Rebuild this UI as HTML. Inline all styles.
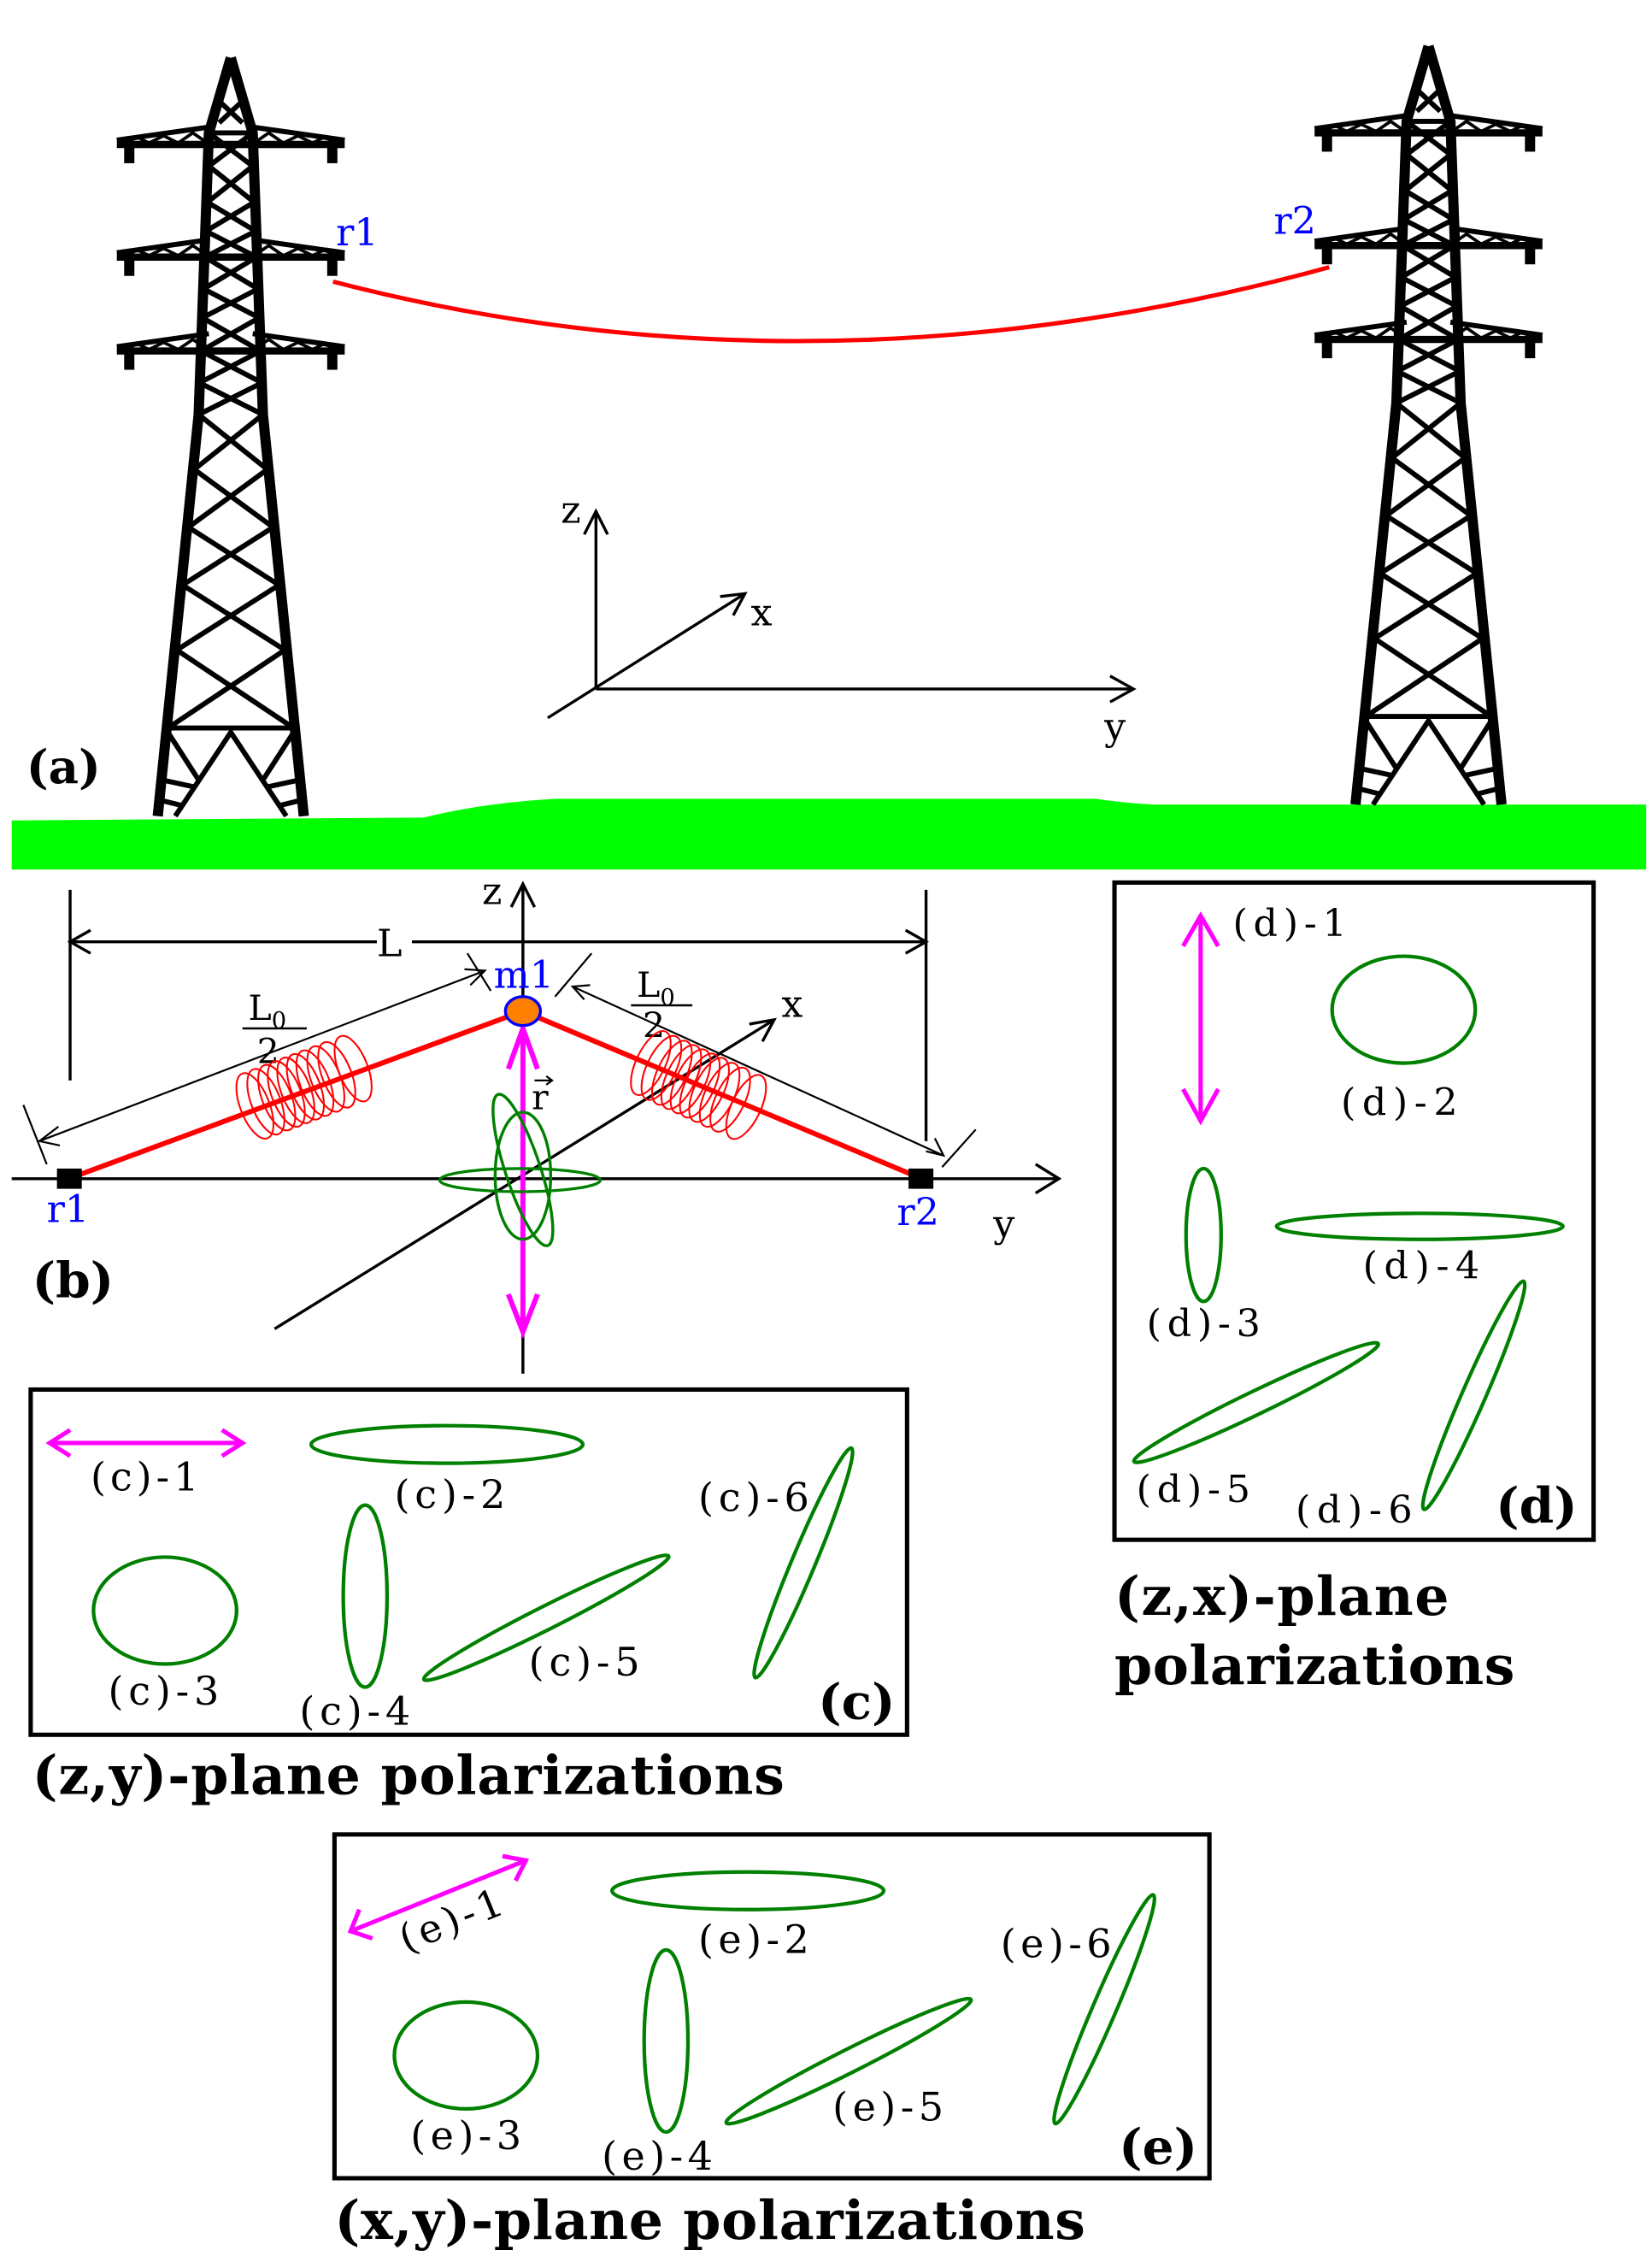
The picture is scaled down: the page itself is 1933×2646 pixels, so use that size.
<!DOCTYPE html>
<html><head><meta charset="utf-8"><style>
html,body{margin:0;padding:0;background:#fff}
svg{display:block}
text{font-family:"DejaVu Serif","Liberation Serif",serif}
</style></head><body>
<svg width="1933" height="2646" viewBox="0 0 1131 1566" preserveAspectRatio="none" xmlns="http://www.w3.org/2000/svg">
<defs>
<g id="tower" stroke="#000" fill="none" stroke-linejoin="round">
  <path d="M0,0 L-15,52 L-22,247 L-50,525 M0,0 L15,52 L22,247 L50,525" stroke-width="7"/>
  <path d="M-8,30 L8,45 M8,30 L-8,45 M-15,52 L15,52" stroke-width="3.5"/>
  <polyline points="-15,52 15,75 -16,100 17,120 -17.7,138 18.6,160 -19.4,180 20.4,203 -21.4,225 22,247 -25,285 29,325 -33,365 37,410 -43,464" stroke-width="3.5"/>
  <polyline points="15,52 -15,75 16,100 -17,120 17.7,138 -18.6,160 19.4,180 -20.4,203 21.4,225 -22,247 25,285 -29,325 33,365 -37,410 43,464" stroke-width="3.5"/>
  <path d="M-43,464 L43,464 M-38,525 L0,467 L38,525 M-43,467 L-22,500 M43,467 L22,500 M-47,500 L-24,505 M47,500 L24,505 M-48,514 L-32,518 M48,514 L32,518" stroke-width="3.5"/>
  <g id="arm">
    <path d="M-15,48 L-78,57 M15,48 L78,57" stroke-width="3.5"/>
    <path d="M-78,60 L78,60" stroke-width="5"/>
    <polyline points="-72,59 -64,55 -56,59 -46,54 -36,59 -26,52 -16,59" stroke-width="2.2"/>
    <polyline points="72,59 64,55 56,59 46,54 36,59 26,52 16,59" stroke-width="2.2"/>
    <rect x="-73" y="61" width="7" height="12" fill="#000" stroke="none"/>
    <rect x="66" y="61" width="7" height="12" fill="#000" stroke="none"/>
  </g>
  <use href="#arm" y="78"/>
  <use href="#arm" y="143"/>
</g>
</defs>

<path d="M8,568 L290,566 Q330,556 380,553 L750,553 Q770,556 790,557 L1127,557 L1127,602 L8,602 Z" fill="#00ff00"/>

<use href="#tower" x="158" y="40"/>
<use href="#tower" x="978" y="32"/>

<path d="M228,195 Q560,282 910,185" stroke="#ff0000" stroke-width="3" fill="none"/>
<text x="230" y="170" font-size="26" fill="#0000ff">r1</text>
<text x="872" y="162" font-size="26" fill="#0000ff">r2</text>
<text x="18" y="542" font-size="32" font-weight="bold">(a)</text>

<g stroke="#000" stroke-width="2" fill="none">
  <path d="M408,477 L408,354 M400,370 L408,354 L416,370"/>
  <path d="M408,477 L776,477 M760,468 L776,477 L760,486"/>
  <path d="M375,497 L510,411 M493,413 L510,411 L502,426"/>
</g>
<text x="384" y="362" font-size="26">z</text>
<text x="514" y="433" font-size="26">x</text>
<text x="756" y="512" font-size="26">y</text>

<g stroke="#000" stroke-width="2" fill="none">
  <path d="M8,816 L725,816 M709,806 L725,816 L709,826"/>
  <path d="M358,951 L358,612 M350,628 L358,612 L366,628"/>
  <path d="M48,616 L48,748 M634,616 L634,790"/>
  <path d="M48,652 L258,652 M282,652 L634,652 M62,644 L48,652 L62,660 M620,644 L634,652 L620,660"/>
  <path d="M188,920 L530,706 M513,709 L530,706 L522,721"/>
</g>
<g stroke="#000" stroke-width="1.3" fill="none">
  <path d="M27,790 L332,672 M40,780 L27,790 L41,793 M318,671 L332,672 L322,682"/>
  <path d="M16,765 L32,806 M320,660 L336,686"/>
  <path d="M392,683 L646,800 M404,682 L392,683 L400,692 M634,797 L646,800 L640,788"/>
  <path d="M380,690 L405,660 M645,808 L668,782"/>
</g>
<text x="258" y="662" font-size="26">L</text>
<text x="170" y="706" font-size="24">L<tspan font-size="16" dy="6">0</tspan></text>
<path d="M166,712 L210,712" stroke="#000" stroke-width="1.5"/>
<text x="176" y="736" font-size="24">2</text>
<text x="436" y="690" font-size="24">L<tspan font-size="16" dy="6">0</tspan></text>
<path d="M432,696 L474,696" stroke="#000" stroke-width="1.5"/>
<text x="440" y="718" font-size="24">2</text>

<path d="M47,816 L358,700 L631,816" stroke="#ff0000" stroke-width="3.5" fill="none"/>
<g stroke="#ff0000" stroke-width="1.2" fill="none">
  <g transform="rotate(-21 210 752)">
    <ellipse cx="172" cy="752" rx="10" ry="24"/><ellipse cx="180" cy="752" rx="10" ry="24"/><ellipse cx="188" cy="752" rx="10" ry="24"/><ellipse cx="195" cy="752" rx="10" ry="24"/><ellipse cx="202" cy="752" rx="10" ry="24"/><ellipse cx="209" cy="752" rx="10" ry="24"/><ellipse cx="216" cy="752" rx="10" ry="24"/><ellipse cx="224" cy="752" rx="10" ry="24"/><ellipse cx="232" cy="752" rx="10" ry="24"/><ellipse cx="244" cy="752" rx="10" ry="24"/>
  </g>
  <g transform="rotate(25 480 752)">
    <ellipse cx="442" cy="752" rx="10" ry="24"/><ellipse cx="450" cy="752" rx="10" ry="24"/><ellipse cx="458" cy="752" rx="10" ry="24"/><ellipse cx="465" cy="752" rx="10" ry="24"/><ellipse cx="472" cy="752" rx="10" ry="24"/><ellipse cx="479" cy="752" rx="10" ry="24"/><ellipse cx="486" cy="752" rx="10" ry="24"/><ellipse cx="494" cy="752" rx="10" ry="24"/><ellipse cx="502" cy="752" rx="10" ry="24"/><ellipse cx="514" cy="752" rx="10" ry="24"/>
  </g>
</g>
<g stroke="#ff00ff" stroke-width="3.5" fill="none">
  <path d="M358,712 L358,920 M348,740 L358,712 L368,740 M348,896 L358,922 L368,896"/>
</g>
<text x="364" y="768" font-size="24">r</text>
<path d="M366,748 L378,748 M374,745 L378,748 L374,751" stroke="#000" stroke-width="1.3" fill="none"/>
<g stroke="#008000" stroke-width="2" fill="none">
  <ellipse cx="356" cy="817" rx="55" ry="8"/>
  <ellipse cx="358" cy="814" rx="19" ry="44"/>
  <ellipse cx="358" cy="810" rx="12" ry="55" transform="rotate(-18 358 810)"/>
</g>
<ellipse cx="358" cy="700" rx="12" ry="10" fill="#ff8000" stroke="#0000ff" stroke-width="2"/>
<text x="338" y="684" font-size="26" fill="#0000ff">m1</text>
<rect x="39" y="809" width="17" height="14" fill="#000"/>
<rect x="622" y="809" width="17" height="14" fill="#000"/>
<text x="32" y="846" font-size="26" fill="#0000ff">r1</text>
<text x="614" y="848" font-size="26" fill="#0000ff">r2</text>
<text x="680" y="856" font-size="26">y</text>
<text x="535" y="704" font-size="26">x</text>
<text x="330" y="626" font-size="26">z</text>
<text x="22" y="898" font-size="34" font-weight="bold">(b)</text>

<rect x="21" y="962" width="600" height="239" fill="none" stroke="#000" stroke-width="3"/>
<path d="M34,999 L166,999 M48,990 L34,999 L48,1008 M152,990 L166,999 L152,1008" stroke="#ff00ff" stroke-width="3" fill="none"/>
<g stroke="#008000" stroke-width="2.5" fill="none">
  <ellipse cx="306" cy="1000" rx="93" ry="13"/>
  <ellipse cx="113" cy="1115" rx="49" ry="37"/>
  <ellipse cx="250" cy="1105" rx="15" ry="63"/>
  <ellipse cx="374" cy="1120" rx="94" ry="8" transform="rotate(-27 374 1120)"/>
  <ellipse cx="550" cy="1082" rx="86" ry="8" transform="rotate(-67.5 550 1082)"/>
</g>
<g font-size="27">
<text x="62" y="1032" textLength="74">(c)-1</text>
<text x="270" y="1044" textLength="76">(c)-2</text>
<text x="74" y="1180" textLength="76">(c)-3</text>
<text x="205" y="1194" textLength="76">(c)-4</text>
<text x="362" y="1160" textLength="76">(c)-5</text>
<text x="478" y="1046" textLength="76">(c)-6</text>
</g>
<text x="560" y="1190" font-size="34" font-weight="bold">(c)</text>
<text x="22" y="1242" font-size="37" font-weight="bold" textLength="515">(z,y)-plane polarizations</text>

<rect x="763" y="611" width="328" height="455" fill="none" stroke="#000" stroke-width="3"/>
<path d="M822,634 L822,774 M810,655 L822,634 L834,655 M810,754 L822,776 L834,754" stroke="#ff00ff" stroke-width="3" fill="none"/>
<g stroke="#008000" stroke-width="2.5" fill="none">
  <ellipse cx="961" cy="699" rx="49" ry="37"/>
  <ellipse cx="824" cy="855" rx="12" ry="46"/>
  <ellipse cx="972" cy="849" rx="98" ry="9"/>
  <ellipse cx="860" cy="971" rx="93" ry="8" transform="rotate(-26 860 971)"/>
  <ellipse cx="1009" cy="966" rx="86" ry="8" transform="rotate(-66.6 1009 966)"/>
</g>
<g font-size="26">
<text x="844" y="648" textLength="78">(d)-1</text>
<text x="918" y="772" textLength="80">(d)-2</text>
<text x="785" y="925" textLength="78">(d)-3</text>
<text x="933" y="885" textLength="80">(d)-4</text>
<text x="778" y="1040" textLength="78">(d)-5</text>
<text x="887" y="1054" textLength="80">(d)-6</text>
</g>
<text x="1024" y="1054" font-size="34" font-weight="bold">(d)</text>
<text x="763" y="1118" font-size="37" font-weight="bold" textLength="229">(z,x)-plane</text>
<text x="763" y="1166" font-size="37" font-weight="bold" textLength="274">polarizations</text>

<rect x="229" y="1270" width="599" height="238" fill="none" stroke="#000" stroke-width="3"/>
<path d="M240,1337 L360,1288 M246,1322 L240,1337 L255,1342 M344,1285 L360,1288 L353,1302" stroke="#ff00ff" stroke-width="3" fill="none"/>
<g stroke="#008000" stroke-width="2.5" fill="none">
  <ellipse cx="512" cy="1309" rx="93" ry="13"/>
  <ellipse cx="319" cy="1423" rx="49" ry="37"/>
  <ellipse cx="456" cy="1413" rx="15" ry="63"/>
  <ellipse cx="581" cy="1427" rx="94" ry="8" transform="rotate(-27 581 1427)"/>
  <ellipse cx="756" cy="1391" rx="86" ry="8" transform="rotate(-67 756 1391)"/>
</g>
<g font-size="27">
<text x="278" y="1352" transform="rotate(-22 278 1352)" textLength="74">(e)-1</text>
<text x="478" y="1352" textLength="76">(e)-2</text>
<text x="281" y="1488" textLength="76">(e)-3</text>
<text x="412" y="1502" textLength="76">(e)-4</text>
<text x="570" y="1468" textLength="76">(e)-5</text>
<text x="685" y="1355" textLength="76">(e)-6</text>
</g>
<text x="766" y="1498" font-size="34" font-weight="bold">(e)</text>
<text x="229" y="1550" font-size="37" font-weight="bold" textLength="514">(x,y)-plane polarizations</text>
</svg>
</body></html>
